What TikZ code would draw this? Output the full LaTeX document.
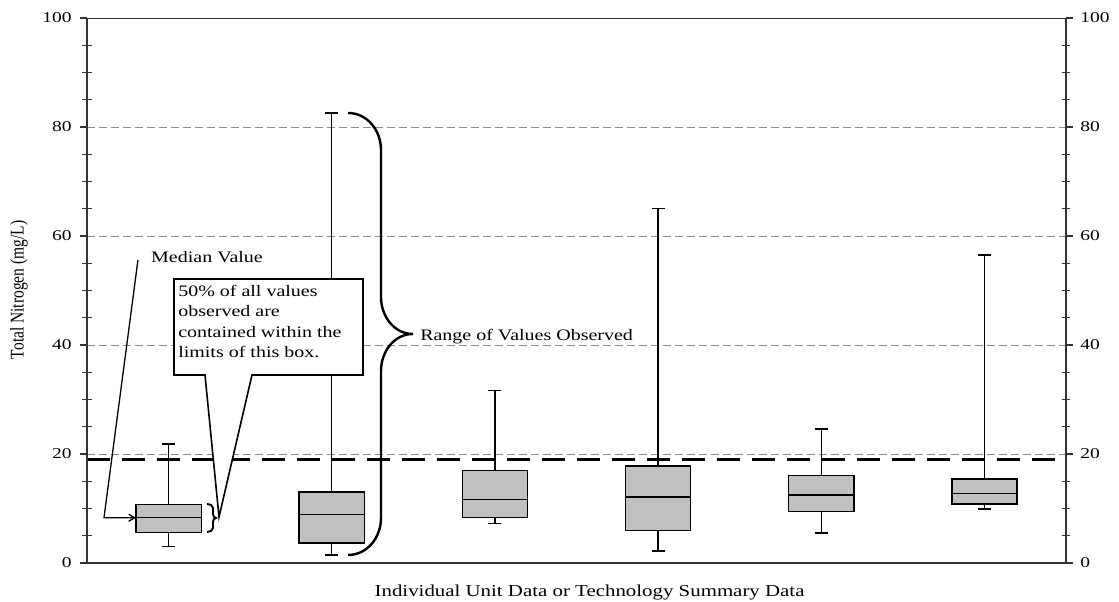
\documentclass[tikz,border=0pt]{standalone}
\usepackage{fontspec}
\setmainfont{Liberation Serif}
\usetikzlibrary{arrows.meta, positioning, calc}
\definecolor{boxgray}{HTML}{C0C0C0}
\definecolor{gridgray}{HTML}{8C8C8C}

\begin{document}
\begin{tikzpicture}[x=163.17pt, y=5.45pt,
    lbl/.style={font=\fontsize{16}{20.5}\selectfont, xscale=1.25, inner sep=0pt},
    ticklbl/.style={font=\fontsize{15}{18}\selectfont, xscale=1.3, inner sep=0pt},
    frame/.style={line width=1.3pt, black!80},
    gridln/.style={gridgray, line width=0.7pt, dash pattern=on 8pt off 4pt},
    limitln/.style={line width=3.2pt, dash pattern=on 23pt off 12pt},
    boxplt/.style={draw, fill=boxgray, line width=1.4pt},
    whisk/.style={line width=1.4pt},
    callout/.style={draw, fill=white, line width=1.6pt, line join=miter},
    curl/.style={line width=2.4pt},
    lead/.style={line width=1.3pt}
  ]
  \useasboundingbox (-0.53318,-7.156) rectangle (6.3247,103.30);

  % grid lines and limit
  \foreach \v in {20,40,60,80}
    \draw[gridln] (0,\v) -- (6,\v);
  \draw[limitln] (0,19) -- (6,19);

  % axes
  \draw[frame] (0,0) -- (6,0);
  \draw[frame, line width=0.9pt] (0,100) -- (6,100);
  \draw[frame] (0,0) -- (0,100);
  \draw[frame] (6,0) -- (6,100);
  \foreach \m in {0,20,...,80}
    \foreach \d in {5,10,15} {
      \draw[frame, line width=1.1pt] ([xshift=-5pt]0,\m+\d) -- ([xshift=5pt]0,\m+\d);
      \draw[frame, line width=1.1pt] ([xshift=-4pt]6,\m+\d) -- ([xshift=4pt]6,\m+\d);
    }
  \foreach \v in {0,20,...,100} {
    \draw[frame, line width=1.1pt] (0,\v) -- ++(-7pt,0);
    \draw[frame, line width=1.1pt] (6,\v) -- ++(7pt,0);
    \node[ticklbl, anchor=east] (yl\v) at ([xshift=-15pt]0,\v) {\v};
    \node[ticklbl, anchor=west] (yr\v) at ([xshift=14pt]6,\v) {\v};
  }

  % boxes
  \foreach \n/\lo/\qa/\md/\qb/\hi in {1/3.0/5.6/8.3/10.7/21.8, 2/1.5/3.7/8.9/13.0/82.6,
      3/7.3/8.4/11.6/17.0/31.6, 4/2.2/6.0/12.1/17.8/65.0,
      5/5.5/9.5/12.5/16.1/24.6, 6/9.9/10.8/12.7/15.4/56.5} {
    \pgfmathsetmacro\cx{\n-0.5}
    \draw[whisk] (\cx,\lo) -- (\cx,\qa) (\cx,\qb) -- (\cx,\hi);
    \draw[whisk] ([xshift=-6.5pt]\cx,\hi) -- ([xshift=6.5pt]\cx,\hi);
    \draw[whisk] ([xshift=-6.5pt]\cx,\lo) -- ([xshift=6.5pt]\cx,\lo);
    \draw[boxplt] (\cx-0.2,\qa) rectangle (\cx+0.2,\qb);
    \draw[boxplt] (\cx-0.2,\md) -- (\cx+0.2,\md);
    \coordinate (med\n) at (\cx-0.2,\md);
  }

  % callout
  \coordinate (cnw) at (0.5332,52.11);
  \coordinate (cse) at (1.6915,34.5);
  \coordinate (cpl) at (0.7232,34.5);
  \coordinate (cpr) at (1.0112,34.5);
  \coordinate (ctip) at (0.809,8.44);
  \draw[callout] (cnw) -| (cse) -- (cpr) -- (ctip) -- (cpl) -- (cnw |- cse) -- cycle;
  \node[lbl, anchor=north west, align=left] (ctext) at ([shift={(4pt,-6pt)}]cnw)
    {50\% of all values\\observed are\\contained within the\\limits of this box.};

  % small brace
  \coordinate (sbt) at (0.7354,10.83);
  \draw[curl, line width=1.9pt] (sbt) to[out=0,in=90] ++(6pt,-4pt) -- ++(0,-6pt)
    to[out=-90,in=180] ++(3pt,-4pt) to[out=180,in=90] ++(-3pt,-4pt) -- ++(0,-6pt)
    to[out=-90,in=0] ++(-6pt,-4pt);

  % range brace
  \coordinate (rtop) at (1.5996,82.57);
  \draw[curl] (rtop) to[out=0,in=90] ++(33pt,-37pt) -- ++(0,-147pt)
    to[out=-90,in=180] ++(32pt,-37pt) coordinate (rtip)
    to[out=180,in=90] ++(-32pt,-37pt) -- ++(0,-147pt)
    to[out=-90,in=0] ++(-33pt,-37pt);
  \node[lbl, anchor=base west] (rangelbl) at ([shift={(7pt,-7pt)}]rtip) {Range of Values Observed};

  % median
  \node[lbl, anchor=base west] (medlbl) at (0.392,55.05) {Median Value};
  \coordinate (mcorner) at (0.1042,0);
  \draw[lead, -{Straight Barb[length=6pt,width=7pt]}] ([shift={(-13pt,3pt)}]medlbl.base west)
    -- (mcorner |- med1) -- (med1);

  % axis titles
  \node[lbl, font=\fontsize{15.5}{18}\selectfont, rotate=90] (ylab) at (-0.4167,50.1) {Total Nitrogen (mg/L)};
  \node[lbl, font=\fontsize{16.7}{20}\selectfont, anchor=base] (xlab) at (3.08,-6.06)
    {Individual Unit Data or Technology Summary Data};
\end{tikzpicture}
\end{document}
